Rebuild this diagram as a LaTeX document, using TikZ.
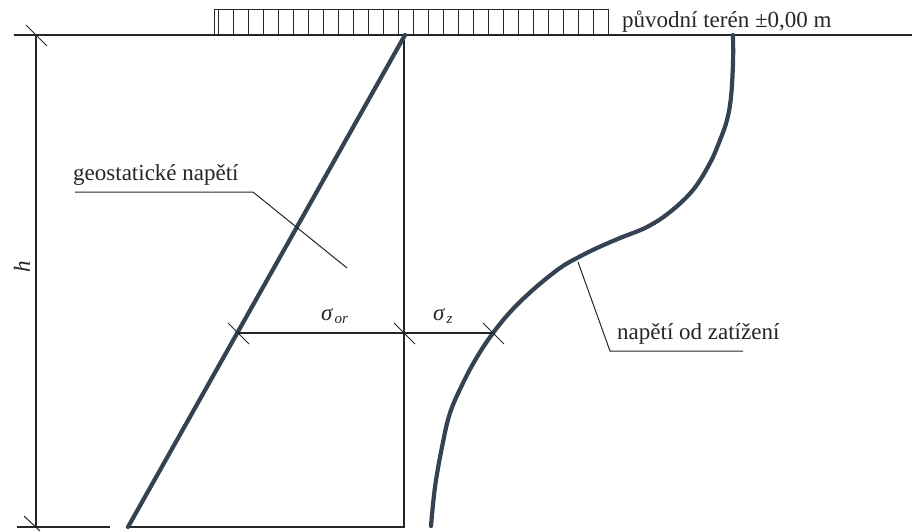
\documentclass[tikz,border=0pt]{standalone}
\usepackage{fontspec}
\setmainfont{Liberation Serif}
\newcommand{\mysub}[1]{\kern2pt\raisebox{-0.35ex}{\fontsize{15}{16}\selectfont\itshape #1}}
\begin{document}
\begin{tikzpicture}[x=1pt,y=-1pt,
  thin line/.style={draw=black!85, line width=1.1pt},
  thick curve/.style={draw={rgb,255:red,52;green,66;blue,82}, line width=4.2pt, line cap=round},
  tickmark/.style={draw=black!85, line width=1pt},
  lbl/.style={font=\fontsize{23}{26}\selectfont, text=black!85, inner sep=0pt, anchor=base west},
  sig/.style={font=\fontsize{23}{26}\selectfont\itshape, text=black!85, inner sep=0pt, anchor=base west}]
\useasboundingbox (0,0) rectangle (912,531);
\fill[white] (0,0) rectangle (912,531);
% coordinates
\coordinate (gl) at (14,35);
\coordinate (gr) at (912,35);
\coordinate (dtop) at (36,35);
\coordinate (dbot) at (36,527);
\coordinate (bl) at (17,527);
\coordinate (blr) at (110,527);
\coordinate (gtop) at (405,35);
\coordinate (gbot) at (128,527);
\coordinate (vtop) at (404,35);
\coordinate (vbot) at (404,527);
\coordinate (m1) at (238,333);
\coordinate (m2) at (404,333);
\coordinate (m3) at (493,333);
% ground line
\draw[thin line] (gl) -- (gr);
% load strip
\draw[thin line, line width=1pt] (214,35) -- (214,9) -- (608,9) -- (608,35);
\foreach \i in {0,...,25} {
  \draw[thin line, line width=1pt] ({218.3+15*\i},9) -- ({218.3+15*\i},35);
}
\node[lbl] (teren) at (622,27) {původní terén ±0,00 m};
% left dimension
\draw[thin line] (dtop) -- (dbot);
\draw[tickmark] ([shift={(-10,-10)}]dtop) -- ([shift={(11,11)}]dtop);
\draw[tickmark] ([shift={(-12,-11)}]dbot) -- ([shift={(4,4)}]dbot);
\draw[thin line] (bl) -- (blr);
\node[font=\fontsize{23}{26}\selectfont\itshape, text=black!85, rotate=90, inner sep=0pt] (h) at (22,267) {h};
% rectangle
\draw[thin line] (vtop) -- (vbot) -- (gbot);
% geostatic line
\draw[thick curve] (gtop) -- (gbot);
% load curve
\draw[thick curve] plot[smooth, tension=0.6] coordinates {
 (733,35) (733,63) (731,97) (727,120) (720,140) (710,163) (693,190) (670,212)
 (647,227) (620,238) (597,248) (577,258) (560,268) (535,288) (512,310) (493,333)
 (477,357) (463,383) (450,413) (442,447) (435,487) (431,526)};
% dimension line
\draw[thin line] (m1) -- (m3);
\foreach \p in {m1,m2,m3} {
  \draw[tickmark] ([shift={(-10,-10)}]\p) -- ([shift={(11,11)}]\p);
}
\node[sig] (sor) at (321,320) {σ\mysub{or}};
\node[sig] (sz) at (433,320) {σ\mysub{z}};
% geostatic label
\node[lbl] (geo) at (73,180) {geostatické napětí};
\coordinate (g1) at (75,192);
\coordinate (g2) at (253,192);
\coordinate (g3) at (347,268);
\draw[thin line, line width=1pt] (g1) -- (g2) -- (g3);
% load label
\node[lbl] (zat) at (617,339) {napětí od zatížení};
\coordinate (z1) at (578,262);
\coordinate (z2) at (610,351);
\coordinate (z3) at (743,351);
\draw[thin line, line width=1pt] (z1) -- (z2) -- (z3);
\end{tikzpicture}
\end{document}
